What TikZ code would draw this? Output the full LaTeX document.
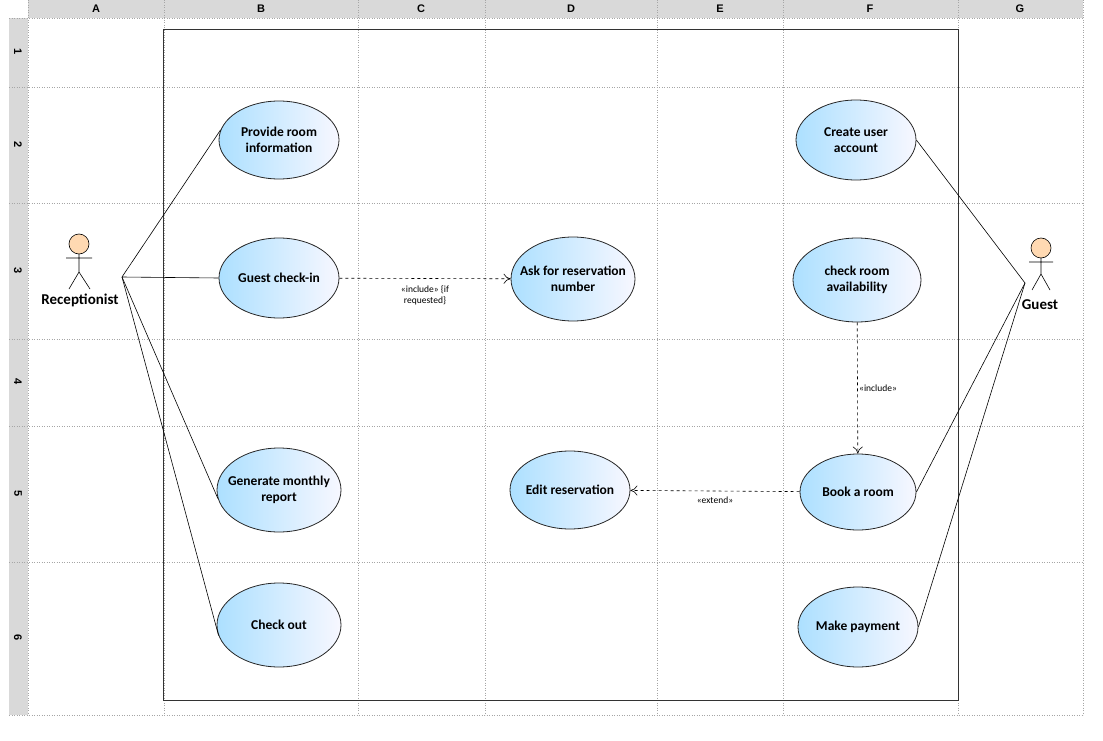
\documentclass[tikz,border=0pt]{standalone}
\usepackage{fontspec}
\setmainfont{Carlito}
\newfontfamily\hdr{Liberation Sans}
\usetikzlibrary{shapes.geometric,arrows.meta}
\begin{document}
\begin{tikzpicture}[x=1pt,y=-1pt,
  uc/.style={ellipse,draw=black!85,line width=0.8pt,left color=blue!10!cyan!25!white!90!blue,right color=blue!3!white,minimum width=120pt,minimum height=78pt,inner xsep=-12pt,inner ysep=0pt,align=center,font=\bfseries\fontsize{13.5}{16.5}\selectfont},
  grid/.style={dotted,gray!70,line width=0.5pt},
  hl/.style={font=\hdr\bfseries\fontsize{11}{12}\selectfont},
  lnk/.style={line width=0.6pt},
  dep/.style={dashed,line width=0.6pt,-{To[length=7pt,width=10pt]}},
  lab/.style={font=\fontsize{9.5}{11}\selectfont,align=center}]
\useasboundingbox (0,0) rectangle (1103,741);
% headers
\fill[gray!30] (28,0) rectangle (1083,18);
\fill[gray!30] (9,18) rectangle (28,715);
\foreach \x in {28,164,358,485,657,783,958,1083} {\draw[grid] (\x,0) -- (\x,715);}
\foreach \y in {18,87,203,339,426,562,715} {\draw[grid] (9,\y) -- (1083,\y);}
\foreach \l/\x in {A/96,B/261,C/421,D/571,E/720,F/870,G/1020} {\node[hl] (h\l) at (\x,9) {\l};}
\foreach \l/\y in {1/52,2/145,3/271,4/382,5/494,6/638} {\node[hl,rotate=-90] (r\l) at (18,\y) {\l};}
% system boundary
\draw[line width=0.8pt,black!80] (163,29) rectangle (958,700);
% actors
\begin{scope}[line width=0.6pt]
\draw[fill=orange!30] (79,244) circle (10);
\draw (79,254) -- (79,272) (66,258) -- (92,258) (69,289) -- (79,272) -- (90,289);
\draw[fill=orange!30] (1041,248) circle (10);
\draw (1041,258) -- (1041,274) (1029,262) -- (1053,262) (1032,290) -- (1041,274) -- (1050,290);
\end{scope}
\node[font=\bfseries\fontsize{15}{17}\selectfont] (rec) at (80,300) {Receptionist};
\node[font=\bfseries\fontsize{15}{17}\selectfont] (gst) at (1040,305) {Guest};
\coordinate (ra) at (122,277);
\coordinate (ga) at (1025,283);
% use cases
\node[uc] (u1) at (279,140) {Provide room\\information};
\node[uc,minimum height=80pt] (u2) at (279,278) {Guest check-in};
\node[uc,minimum width=124pt,minimum height=84pt] (u3) at (279,490) {Generate monthly\\report};
\node[uc,minimum width=124pt,minimum height=84pt] (u4) at (279,625) {Check out};
\node[uc,minimum width=124pt,minimum height=84pt] (u5) at (573,279) {Ask for reservation\\number};
\node[uc] (u6) at (570,490) {Edit reservation};
\node[uc,minimum height=80pt] (u7) at (856,140) {Create user\\account};
\node[uc,minimum width=128pt,minimum height=84pt] (u8) at (857,280) {check room\\availability};
\node[uc,minimum width=116pt,minimum height=76pt] (u9) at (858,492) {Book a room};
\node[uc,minimum height=80pt] (u10) at (858,627) {Make payment};
% associations
\draw[lnk] (ra) -- (u1.170);
\draw[lnk] (ra) -- (u2.west);
\draw[lnk] (ra) -- (u3.188);
\draw[lnk] (ra) -- (u4.190);
\draw[lnk] (ga) -- (u7.east);
\draw[lnk] (ga) -- (u9.east);
\draw[lnk] (ga) -- (u10.east);
% dependencies
\draw[dep] (u2) -- node[lab,below=4pt] {«include» \{if\\requested\}} (u5);
\draw[dep] (u8) -- node[lab,right=-2pt,pos=0.5] {«include»} (u9);
\draw[dep] (u9) -- node[lab,below=2pt] {«extend»} (u6);
\end{tikzpicture}
\end{document}
